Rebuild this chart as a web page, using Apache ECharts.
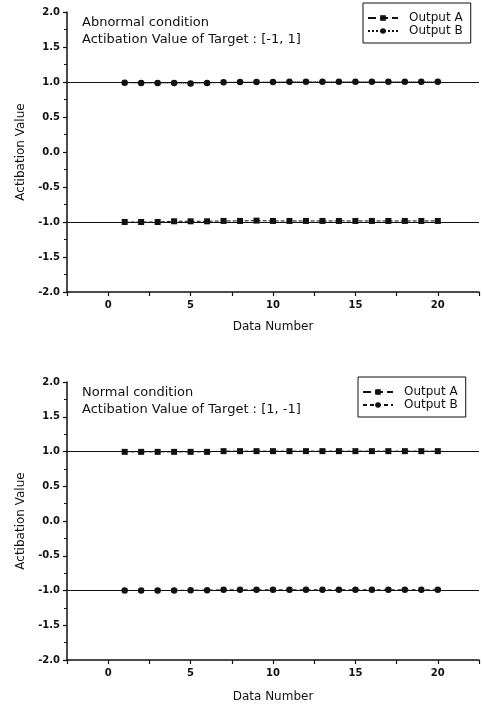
<!DOCTYPE html>
<html>
<head>
<meta charset="utf-8">
<script src="https://cdn.jsdelivr.net/npm/echarts@6/dist/echarts.min.js"></script>
<style>
  html, body { margin: 0; padding: 0; background: #fff; }
  #chart { width: 483px; height: 704px; }
</style>
</head>
<body>
<div id="chart"></div>
<script>
const dataNumber = [1, 2, 3, 4, 5, 6, 7, 8, 9, 10, 11, 12, 13, 14, 15, 16, 17, 18, 19, 20]

// abnormal condition, target [-1, 1]
const abnormalA = [-1.0, -1.0, -1.0, -0.99, -0.99, -0.99, -0.985, -0.985, -0.98, -0.985,
  -0.985, -0.985, -0.985, -0.985, -0.985, -0.985, -0.985, -0.985, -0.985, -0.985]
const abnormalB = [0.99, 0.985, 0.985, 0.985, 0.98, 0.985, 0.995, 1.0, 1.0, 1.0,
  1.005, 1.005, 1.005, 1.005, 1.005, 1.005, 1.005, 1.005, 1.005, 1.005]

// normal condition, target [1, -1]
const normalA = [0.995, 0.995, 0.995, 0.995, 0.995, 0.995, 1.005, 1.005, 1.005, 1.005,
  1.005, 1.005, 1.005, 1.005, 1.005, 1.005, 1.005, 1.005, 1.005, 1.005]
const normalB = [-1.0, -1.0, -1.0, -1.0, -0.995, -0.995, -0.99, -0.99, -0.99, -0.99,
  -0.99, -0.99, -0.99, -0.99, -0.99, -0.99, -0.99, -0.99, -0.99, -0.99]

const targetLevels = [1, -1]
const legendNames = { A1: 'Output A', B1: 'Output B', A2: 'Output A', B2: 'Output B' }

const font = 'DejaVu Sans'
const ink = '#111'

const chart = echarts.init(document.getElementById('chart'), null, { renderer: 'canvas' })

function pairs(ys) {
  return dataNumber.map((x, i) => [x, ys[i]])
}

function xAxisFor(gridIndex, nameGap) {
  return {
    type: 'value', gridIndex, min: -2.5, max: 22.5, interval: 2.5,
    name: 'Data Number', nameLocation: 'middle', nameGap,
    nameTextStyle: { fontFamily: font, fontSize: 12, color: ink },
    axisLine: { onZero: false, lineStyle: { color: ink, width: 1.5 } },
    axisTick: { length: 4, lineStyle: { color: ink, width: 1.2 } },
    axisLabel: {
      fontFamily: font, fontSize: 10, fontWeight: 'bold', color: ink, margin: 8,
      formatter: v => (v % 5 === 0 ? String(v) : '')
    },
    splitLine: { show: false }
  }
}

function yAxisFor(gridIndex) {
  return {
    type: 'value', gridIndex, min: -2, max: 2, interval: 0.5,
    name: 'Actibation Value', nameLocation: 'middle', nameGap: 39, nameRotate: 90,
    nameTextStyle: { fontFamily: font, fontSize: 12, color: ink },
    axisLine: { onZero: false, lineStyle: { color: ink, width: 1.5 } },
    axisTick: { length: 4, lineStyle: { color: ink, width: 1.2 } },
    minorTick: { show: true, splitNumber: 2, length: 3, lineStyle: { color: ink, width: 1 } },
    axisLabel: {
      fontFamily: font, fontSize: 10, fontWeight: 'bold', color: ink, margin: 7,
      formatter: v => v.toFixed(1)
    },
    splitLine: { show: false }
  }
}

function series(name, idx, ys, symbol, lineType, withTargets) {
  const s = {
    name, type: 'line', xAxisIndex: idx, yAxisIndex: idx,
    data: pairs(ys), symbol, symbolSize: symbol === 'circle' ? 6.5 : 6,
    itemStyle: { color: ink },
    lineStyle: { color: ink, width: 1, type: lineType },
    animation: false
  }
  if (withTargets) {
    s.markLine = {
      silent: true, symbol: 'none', label: { show: false },
      lineStyle: { color: ink, width: 1.2, type: 'solid' },
      data: targetLevels.map(y => ({ yAxis: y }))
    }
  }
  return s
}

function legendFor(names, left, top) {
  return {
    data: names, left, top, orient: 'vertical',
    itemWidth: 30, itemHeight: 7, itemGap: 1,
    padding: [9, 8, 6, 4],
    borderColor: ink, borderWidth: 1,
    selectedMode: false,
    formatter: n => legendNames[n],
    textStyle: { fontFamily: font, fontSize: 12, color: ink, padding: [0, 0, 0, 6] }
  }
}

chart.setOption({
  backgroundColor: '#fff',
  animation: false,
  title: [
    {
      text: 'Abnormal condition\nActibation Value of Target : [-1, 1]',
      left: 77, top: 9,
      textStyle: { fontFamily: font, fontSize: 13, fontWeight: 'normal', color: ink, lineHeight: 17 }
    },
    {
      text: 'Normal condition\nActibation Value of Target : [1, -1]',
      left: 77, top: 379,
      textStyle: { fontFamily: font, fontSize: 13, fontWeight: 'normal', color: ink, lineHeight: 17 }
    }
  ],
  legend: [
    legendFor(['A1', 'B1'], 363, 3),
    legendFor(['A2', 'B2'], 358, 377)
  ],
  grid: [
    { left: 67, top: 12, width: 412, height: 280 },
    { left: 67, top: 382, width: 412, height: 278 }
  ],
  xAxis: [xAxisFor(0, 29), xAxisFor(1, 31)],
  yAxis: [yAxisFor(0), yAxisFor(1)],
  series: [
    series('A1', 0, abnormalA, 'rect', 'dashed', true),
    series('B1', 0, abnormalB, 'circle', 'dotted', false),
    series('A2', 1, normalA, 'rect', 'dashed', true),
    series('B2', 1, normalB, 'circle', [4, 3], false)
  ]
})
</script>
</body>
</html>
